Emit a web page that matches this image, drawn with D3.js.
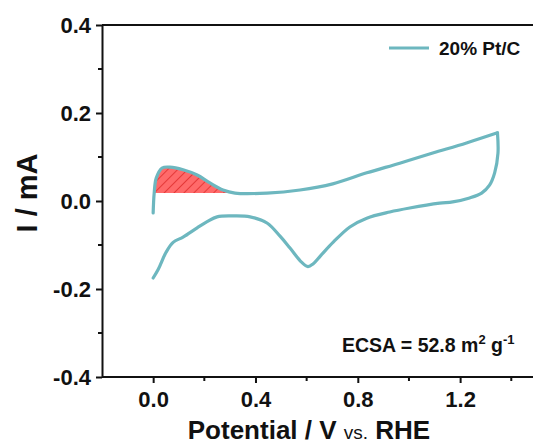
<!DOCTYPE html>
<html>
<head>
<meta charset="utf-8">
<title>CV 20% Pt/C</title>
<style>
  body { margin: 0; background: #fff; }
  text { font-family: "Liberation Sans", Arial, sans-serif; }
</style>
</head>
<body>
<script src="https://cdn.jsdelivr.net/npm/d3@7"></script>
<script>
// CV curve: potential (V vs RHE), current (mA)
var forwardV = [0, 0.004, 0.012, 0.035, 0.066, 0.117, 0.172, 0.222, 0.273, 0.32, 0.445, 0.574, 0.702, 0.835, 0.964, 1.093, 1.225, 1.346];
var forwardI = [-0.027, 0.018, 0.052, 0.075, 0.077, 0.071, 0.059, 0.041, 0.025, 0.018, 0.018, 0.025, 0.039, 0.064, 0.086, 0.109, 0.132, 0.155];
var reverseV = [1.346, 1.348, 1.335, 1.315, 1.284, 1.237, 1.171, 1.12, 1.003, 0.925, 0.835, 0.769, 0.705, 0.655, 0.625, 0.605, 0.58, 0.535, 0.496, 0.445, 0.379, 0.312, 0.25, 0.211, 0.172, 0.117, 0.078, 0.05, 0.02, 0];
var reverseI = [0.155, 0.109, 0.064, 0.036, 0.018, 0.007, -0.002, -0.005, -0.016, -0.025, -0.039, -0.059, -0.093, -0.124, -0.143, -0.149, -0.139, -0.107, -0.080, -0.050, -0.036, -0.034, -0.036, -0.047, -0.061, -0.082, -0.094, -0.117, -0.155, -0.175];

// H-desorption region (shaded)
var hupdV = [0.004, 0.012, 0.035, 0.066, 0.117, 0.172, 0.222, 0.273, 0.32];
var hupdI = [0.018, 0.052, 0.075, 0.077, 0.071, 0.059, 0.041, 0.025, 0.018];
var hupdBase = 0.018;

var xTicks = [0.0, 0.4, 0.8, 1.2];
var xMinor = [0.2, 0.6, 1.0, 1.4];
var yTicks = [-0.4, -0.2, 0.0, 0.2, 0.4];
var yMinor = [-0.3, -0.1, 0.1, 0.3];

var seriesName = "20% Pt/C";
var teal = "#6db7bf";

var W = 533, H = 446;
var margin = {top: 25, left: 102, bottom: 69};

var x = d3.scaleLinear().domain([-0.2, 1.55]).range([margin.left, margin.left + 1.75 * 255.8]);
var y = d3.scaleLinear().domain([-0.4, 0.4]).range([H - margin.bottom, margin.top]);

var fmt = function(d) { return d3.format(".1f")(d).replace("\u2212", "-"); };

var svg = d3.select("body").append("svg")
    .attr("width", W)
    .attr("height", H);

var defs = svg.append("defs");
var pat = defs.append("pattern")
    .attr("id", "hatch")
    .attr("patternUnits", "userSpaceOnUse")
    .attr("width", 7)
    .attr("height", 7)
    .attr("patternTransform", "rotate(45)");
pat.append("rect").attr("width", 7).attr("height", 7).attr("fill", "#ff6a6a");
pat.append("line")
    .attr("x1", 0).attr("y1", 0).attr("x2", 0).attr("y2", 7)
    .attr("stroke", "#d81e1e").attr("stroke-width", 1.3);

// top frame line
svg.append("line")
    .attr("x1", x(-0.2)).attr("x2", W)
    .attr("y1", y(0.4)).attr("y2", y(0.4))
    .attr("stroke", "#111").attr("stroke-width", 2);

// shaded area
var hupd = hupdV.map(function(v, i) { return {v: v, i: hupdI[i]}; });
var area = d3.area()
    .x(function(d) { return x(d.v); })
    .y0(y(hupdBase))
    .y1(function(d) { return y(d.i); })
    .curve(d3.curveMonotoneX);
svg.append("path")
    .datum(hupd)
    .attr("d", area)
    .attr("fill", "url(#hatch)");

// curve: forward and reverse sweep drawn separately so the vertex stays sharp
var fwd = forwardV.map(function(v, i) { return {v: v, i: forwardI[i]}; });
var rev = reverseV.map(function(v, i) { return {v: v, i: reverseI[i]}; });
var line = d3.line()
    .x(function(d) { return x(d.v); })
    .y(function(d) { return y(d.i); })
    .curve(d3.curveCatmullRom.alpha(0.5));
svg.selectAll("path.cv")
    .data([fwd, rev])
    .enter().append("path")
    .attr("class", "cv")
    .attr("d", line)
    .attr("fill", "none")
    .attr("stroke", teal)
    .attr("stroke-width", 3.2)
    .attr("stroke-linejoin", "round")
    .attr("stroke-linecap", "round");

// axes
var xAxis = svg.append("g")
    .attr("transform", "translate(0," + y(-0.4) + ")")
    .call(d3.axisBottom(x).tickValues(xTicks).tickSize(6).tickSizeOuter(0).tickPadding(8).tickFormat(fmt));
xAxis.append("g").selectAll("line").data(xMinor).enter().append("line")
    .attr("x1", function(d) { return x(d); }).attr("x2", function(d) { return x(d); })
    .attr("y1", 0).attr("y2", 4).attr("stroke", "#111").attr("stroke-width", 2);

var yAxis = svg.append("g")
    .attr("transform", "translate(" + x(-0.2) + ",0)")
    .call(d3.axisLeft(y).tickValues(yTicks).tickSize(6).tickSizeOuter(0).tickPadding(5).tickFormat(fmt));
yAxis.append("g").selectAll("line").data(yMinor).enter().append("line")
    .attr("y1", function(d) { return y(d); }).attr("y2", function(d) { return y(d); })
    .attr("x1", 0).attr("x2", -4).attr("stroke", "#111").attr("stroke-width", 2);

svg.selectAll(".domain").attr("stroke", "#111").attr("stroke-width", 2);
svg.selectAll(".tick line").attr("stroke", "#111").attr("stroke-width", 2);
svg.selectAll(".tick text")
    .attr("font-size", 22)
    .attr("font-weight", "bold")
    .attr("fill", "#111")
    .style("font-family", "'Liberation Sans', Arial, sans-serif");
xAxis.select(".domain").attr("d", "M" + x(-0.2) + ",0H" + W);

// axis titles
var xt = svg.append("text")
    .attr("x", 309)
    .attr("y", 439)
    .attr("text-anchor", "middle")
    .attr("fill", "#111")
    .attr("font-weight", "bold")
    .attr("font-size", 26);
xt.append("tspan").text("Potential / V ");
xt.append("tspan").attr("font-size", 19).attr("font-weight", "normal").text("vs.");
xt.append("tspan").text(" RHE");

svg.append("text")
    .attr("transform", "translate(37,193) rotate(-90)")
    .attr("text-anchor", "middle")
    .attr("fill", "#111")
    .attr("font-weight", "bold")
    .attr("font-size", 29)
    .text("I / mA");

// legend
svg.append("line")
    .attr("x1", 389).attr("x2", 429)
    .attr("y1", 48).attr("y2", 48)
    .attr("stroke", teal).attr("stroke-width", 3.2);
svg.append("text")
    .attr("x", 439).attr("y", 55)
    .attr("fill", "#111")
    .attr("font-weight", "bold")
    .attr("font-size", 19)
    .text(seriesName);

// ECSA annotation
var ecsa = svg.append("text")
    .attr("x", 342).attr("y", 352)
    .attr("fill", "#111")
    .attr("font-weight", "bold")
    .attr("font-size", 19.5);
ecsa.append("tspan").text("ECSA = 52.8 m");
ecsa.append("tspan").attr("font-size", 13).attr("dy", -8).text("2");
ecsa.append("tspan").attr("dy", 8).text(" g");
ecsa.append("tspan").attr("font-size", 13).attr("dy", -8).text("-1");
</script>
</body>
</html>
